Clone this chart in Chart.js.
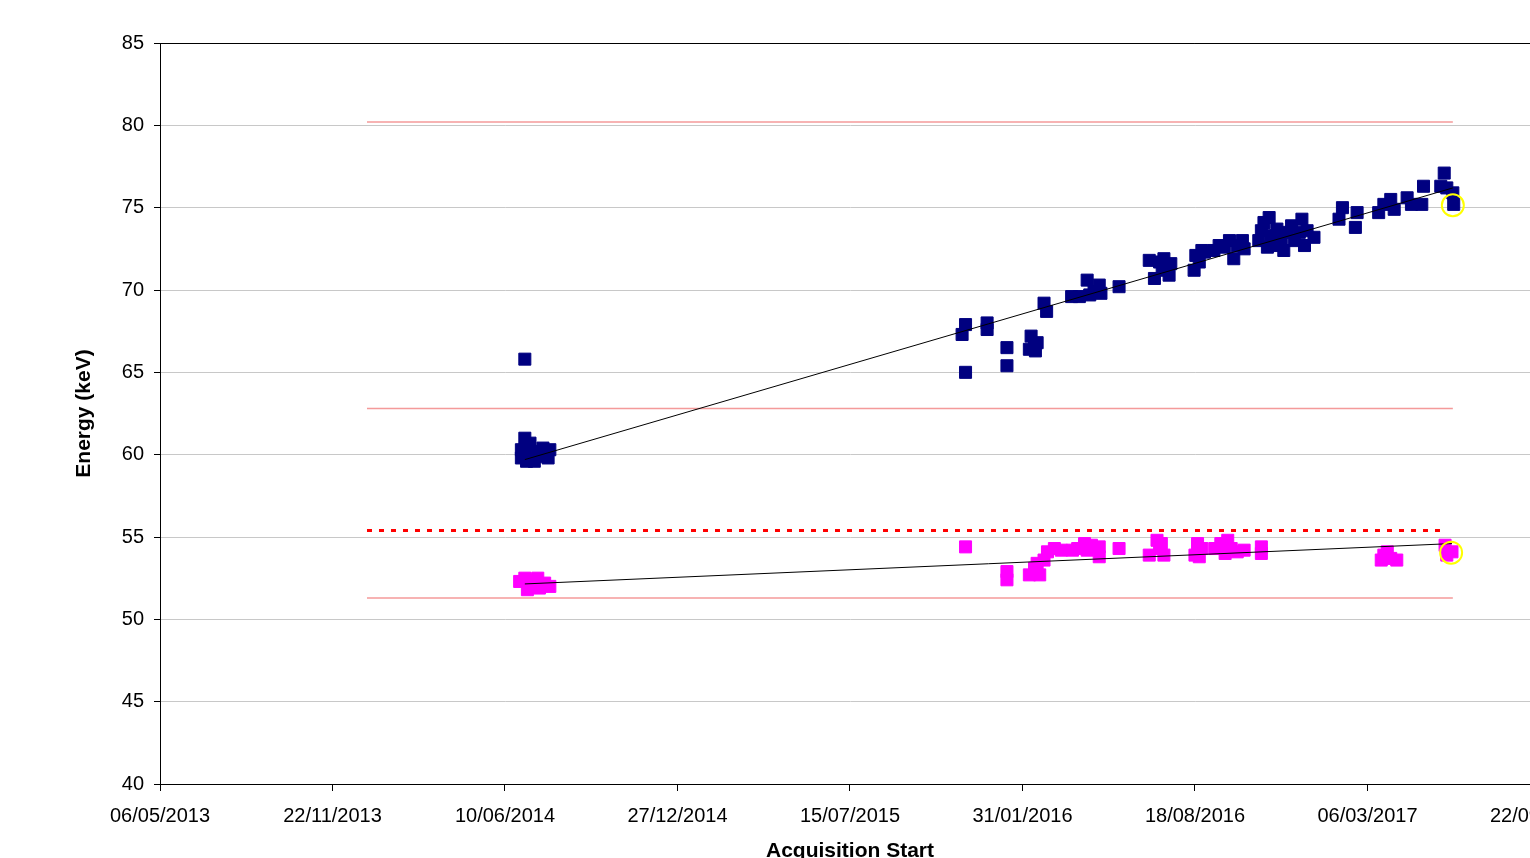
<!DOCTYPE html>
<html>
<head>
<meta charset="utf-8">
<script src="https://cdn.jsdelivr.net/npm/chart.js@4/dist/chart.umd.min.js"></script>
<style>
  html, body { margin: 0; padding: 0; background: #fff; overflow: hidden; }
  #wrap { width: 1603px; height: 870px; }
</style>
</head>
<body>
<div id="wrap"><canvas id="grafico" width="1603" height="870"></canvas></div>
<script>
// Eixo X: dias desde 06/05/2013
const dataInicio = Date.UTC(2013, 4, 6);
const passoDias = 200;
const maxDias = 1600;

// Pico 1 (azul) - dias e energia (keV)
const azulDias = [423, 429, 419, 419, 425, 432, 438, 444, 450, 452, 434, 441, 426, 423,
  934, 930, 934, 959, 959, 982, 982,
  1010, 1014, 1017, 1008, 1015, 1025, 1028,
  1057, 1066, 1075, 1078, 1083, 1089, 1091, 1112,
  1147, 1153, 1159, 1162, 1164, 1170, 1172,
  1199, 1201, 1205, 1208, 1211,
  1222, 1228, 1234, 1240, 1245, 1249, 1255, 1257,
  1274, 1277, 1280, 1284, 1286, 1288, 1292, 1295, 1300, 1303, 1307, 1312, 1315, 1321, 1324, 1327, 1330, 1338,
  1371, 1367, 1388, 1386,
  1413, 1419, 1427, 1431, 1446, 1451, 1465, 1463,
  1489, 1485, 1492, 1499, 1500];
const azulEnergia = [61.0, 60.7, 60.3, 59.8, 59.6, 60.1, 60.2, 60.4, 59.8, 60.3, 59.6, 59.9, 60.5, 65.8,
  67.9, 67.3, 65.0, 68.0, 67.6, 66.5, 65.4,
  67.2, 66.7, 66.8, 66.4, 66.3, 69.2, 68.7,
  69.6, 69.6, 70.6, 69.7, 69.9, 70.3, 69.8, 70.2,
  71.8, 70.7, 71.7, 71.2, 71.9, 70.9, 71.6,
  71.2, 72.1, 71.7, 72.4, 72.3,
  72.4, 72.7, 72.6, 73.0, 71.9, 72.7, 73.0, 72.5,
  73.0, 73.6, 74.1, 72.6, 74.4, 73.3, 72.7, 73.7, 73.0, 72.4, 73.5, 73.9, 73.0, 73.5, 74.3, 72.7, 73.6, 73.2,
  75.0, 74.3, 74.7, 73.8,
  74.7, 75.2, 75.5, 74.9, 75.6, 75.2, 76.3, 75.2,
  77.1, 76.3, 76.2, 75.9, 75.2];

// Pico 2 (magenta)
const magentaDias = [417, 423, 429, 434, 440, 446, 452, 426, 438,
  934, 982, 982,
  1008, 1014, 1020, 1017, 1025, 1029, 1037, 1045, 1058, 1064,
  1072, 1075, 1080, 1089, 1089, 1112,
  1147, 1156, 1159, 1164, 1161,
  1200, 1203, 1208, 1205,
  1223, 1230, 1238, 1242, 1249, 1257, 1235,
  1277, 1277,
  1416, 1423, 1427, 1434, 1419,
  1490, 1492, 1498];
const magentaEnergia = [52.3, 52.5, 52.1, 52.4, 51.9, 52.2, 52.0, 51.8, 52.5,
  54.4, 52.9, 52.4,
  52.7, 53.1, 52.7, 53.4, 53.6, 54.1, 54.3, 54.2, 54.2, 54.3,
  54.6, 54.2, 54.5, 54.4, 53.8, 54.3,
  53.9, 54.8, 54.3, 53.9, 54.6,
  53.9, 54.6, 54.3, 53.8,
  54.3, 54.6, 54.8, 54.3, 54.1, 54.2, 54.0,
  54.4, 54.0,
  53.6, 54.1, 53.7, 53.6, 53.9,
  54.5, 53.9, 54.1];

// Tendências lineares
const tendAzulDias = [423, 1499];
const tendAzulEnergia = [59.7, 76.2];
const tendMagentaDias = [423, 1498];
const tendMagentaEnergia = [52.15, 54.6];

// Último ponto destacado
const destaqueDias = [1499, 1497];
const destaqueEnergia = [75.15, 54.05];

// Limites
const limiteDias = [240, 1499];
const limiteSuperior = 80.2;
const limiteMedio = 62.8;
const limiteInferior = 51.3;
const referenciaDias = [240, 1492];
const referencia = 55.4;

function pontos(xs, ys) {
  return xs.map((x, i) => ({ x, y: ys[i] }));
}

function linhaHorizontal(xs, v) {
  return xs.map(x => ({ x, y: v }));
}

function formatarData(dias) {
  const d = new Date(dataInicio + dias * 86400000);
  const dd = String(d.getUTCDate()).padStart(2, "0");
  const mm = String(d.getUTCMonth() + 1).padStart(2, "0");
  return `${dd}/${mm}/${d.getUTCFullYear()}`;
}

const linhaLimite = {
  showLine: true, pointRadius: 0, borderWidth: 1.5,
  borderColor: "rgba(240,120,120,0.75)"
};

// Borda superior da área do gráfico
const bordaSuperior = {
  id: "bordaSuperior",
  afterDraw(chart) {
    const { ctx, chartArea } = chart;
    ctx.save();
    ctx.strokeStyle = "#000";
    ctx.lineWidth = 1;
    ctx.beginPath();
    ctx.moveTo(chartArea.left, chartArea.top + 0.5);
    ctx.lineTo(chartArea.right, chartArea.top + 0.5);
    ctx.stroke();
    ctx.restore();
  }
};

Chart.defaults.font.family = "'Liberation Sans', Arial, sans-serif";
Chart.defaults.color = "#000";

new Chart(document.getElementById("grafico"), {
  type: "scatter",
  data: {
    datasets: [
      {
        data: pontos(destaqueDias, destaqueEnergia),
        pointStyle: "circle", pointRadius: 11, pointBorderWidth: 2,
        pointBorderColor: "#ffff00", pointBackgroundColor: "rgba(0,0,0,0)"
      },
      {
        data: pontos(tendAzulDias, tendAzulEnergia),
        showLine: true, pointRadius: 0, borderColor: "#000", borderWidth: 1
      },
      {
        data: pontos(tendMagentaDias, tendMagentaEnergia),
        showLine: true, pointRadius: 0, borderColor: "#000", borderWidth: 1
      },
      {
        data: pontos(azulDias, azulEnergia),
        pointStyle: "rect", pointRadius: 8.5, pointBorderWidth: 1,
        pointBackgroundColor: "#000080", pointBorderColor: "#000080"
      },
      {
        data: pontos(magentaDias, magentaEnergia),
        pointStyle: "rect", pointRadius: 8.5, pointBorderWidth: 1,
        pointBackgroundColor: "#ff00ff", pointBorderColor: "#ff00ff"
      },
      {
        data: linhaHorizontal(referenciaDias, referencia),
        showLine: true, pointRadius: 0, borderWidth: 3,
        borderColor: "#ff0000", borderDash: [5, 7]
      },
      { ...linhaLimite, data: linhaHorizontal(limiteDias, limiteSuperior) },
      { ...linhaLimite, data: linhaHorizontal(limiteDias, limiteMedio) },
      { ...linhaLimite, data: linhaHorizontal(limiteDias, limiteInferior) }
    ]
  },
  options: {
    responsive: false,
    animation: false,
    layout: { padding: { top: 43, left: 0, right: 0, bottom: 0 } },
    plugins: { legend: { display: false }, tooltip: { enabled: false } },
    scales: {
      x: {
        type: "linear",
        min: 0, max: maxDias,
        afterFit: s => { s.height = 86; },
        border: { color: "#000", width: 1 },
        grid: { drawOnChartArea: false, tickLength: 7, color: "#000" },
        ticks: {
          stepSize: passoDias, padding: 13, maxRotation: 0,
          font: { size: 20 },
          callback: v => formatarData(v)
        },
        title: {
          display: true, text: "Acquisition Start",
          font: { size: 21, weight: "bold" },
          padding: { top: 8, bottom: 6 }
        }
      },
      y: {
        min: 40, max: 85,
        afterFit: s => { s.width = 160; },
        border: { color: "#000", width: 1 },
        grid: {
          color: ctx => ctx.tick && ctx.tick.value === 85 ? "rgba(0,0,0,0)" : "#c8c8c8",
          tickColor: "#000", tickLength: 6
        },
        ticks: { stepSize: 5, padding: 10, font: { size: 20 } },
        title: {
          display: true, text: "Energy (keV)",
          font: { size: 21, weight: "bold" },
          padding: { top: 72, bottom: 0 }
        }
      }
    }
  },
  plugins: [bordaSuperior]
});
</script>
</body>
</html>
